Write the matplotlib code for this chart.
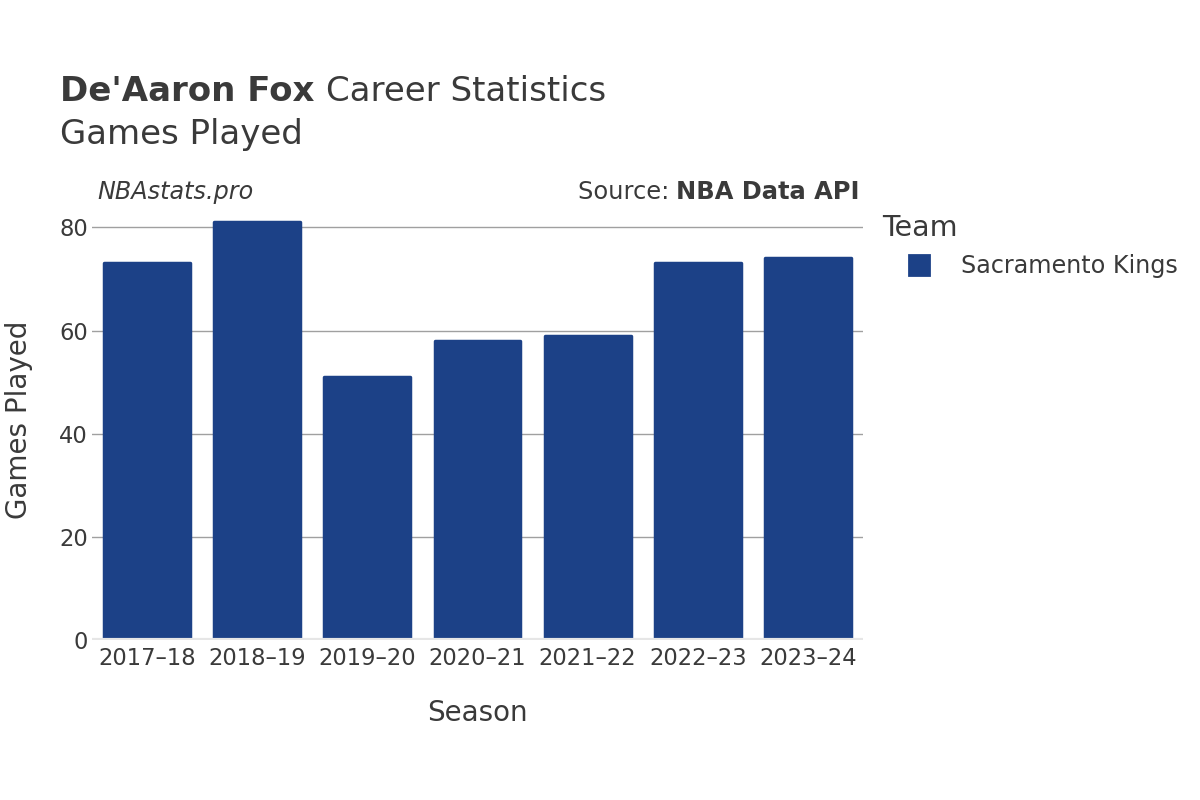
import matplotlib
matplotlib.use("Agg")
import matplotlib.pyplot as plt
from matplotlib.lines import Line2D

seasons = ['2017–18', '2018–19', '2019–20', '2020–21', '2021–22', '2022–23', '2023–24']
games = [73, 81, 51, 58, 59, 73, 74]
team = 'Sacramento Kings'
yticks = [0, 20, 40, 60, 80]

bar_color = '#1c4187'
text_color = '#3a3a3a'

plt.rcParams['font.family'] = ['DejaVu Sans']
fig = plt.figure(figsize=(12, 8), dpi=100)
ax = fig.add_axes([92 / 1200, 0.2, 771 / 1200, 0.55])

x = list(range(len(seasons)))
bars = ax.bar(x, games, width=0.78, color=bar_color, edgecolor=bar_color,
              linewidth=2.5, zorder=3)
for b in bars:
    b.set_joinstyle('round')

ax.set_xlim(-0.5, len(seasons) - 0.5)
ax.set_ylim(0, 85.3)
ax.set_yticks(yticks)
ax.set_xticks(x)
ax.set_xticklabels(seasons)
ax.yaxis.grid(True, color='#a0a0a0', linewidth=1, zorder=0)
ax.axhline(0, color='#e6e6e6', linewidth=3, zorder=4)
for s in ax.spines.values():
    s.set_visible(False)
ax.tick_params(axis='both', length=0, labelsize=16.3, labelcolor=text_color, pad=5)
ax.tick_params(axis='y', pad=3)
ax.set_xlabel('Season', fontsize=20, color=text_color, labelpad=21)
ax.set_ylabel('Games Played', fontsize=20, color=text_color, labelpad=19)

# title
fig.canvas.draw()
r = fig.canvas.get_renderer()
t1 = fig.text(60 / 1200, 1 - 101 / 800, "De'Aaron Fox ", fontsize=24.5, fontweight='bold',
              color=text_color, va='baseline')
bb = t1.get_window_extent(renderer=r)
fig.text(bb.x1 / 1200, 1 - 101 / 800, 'Career Statistics', fontsize=24.5,
         color=text_color, va='baseline')
fig.text(60 / 1200, 1 - 144 / 800, 'Games Played', fontsize=24.5, color=text_color,
         va='baseline')

fig.text(97 / 1200, 1 - 192 / 800, 'NBAstats.pro', fontsize=17.2, style='italic',
         color=text_color, va='center')
t2 = fig.text(860 / 1200, 1 - 192 / 800, 'NBA Data API', fontsize=17.4, fontweight='bold',
              color=text_color, va='center', ha='right')
bb2 = t2.get_window_extent(renderer=r)
fig.text(bb2.x0 / 1200, 1 - 192 / 800, 'Source: ', fontsize=17.4,
         color=text_color, va='center', ha='right')

# legend
handle = Line2D([0], [0], marker='s', linestyle='none', markersize=15,
                markerfacecolor=bar_color, markeredgecolor=bar_color,
                markeredgewidth=2, solid_joinstyle='round')
leg = fig.legend([handle], [team], loc='upper left', bbox_to_anchor=(882 / 1200, 1 - 214 / 800),
                 frameon=False, fontsize=17.2, title='Team', title_fontsize=20.5,
                 handlelength=3.1, handletextpad=0.2, labelspacing=0.8,
                 borderaxespad=0, borderpad=0)
leg._legend_box.align = 'left'
leg._legend_box.sep = 9
leg.get_title().set_color(text_color)
for t in leg.get_texts():
    t.set_color(text_color)

fig.savefig('out.png', dpi=100, facecolor='white')
